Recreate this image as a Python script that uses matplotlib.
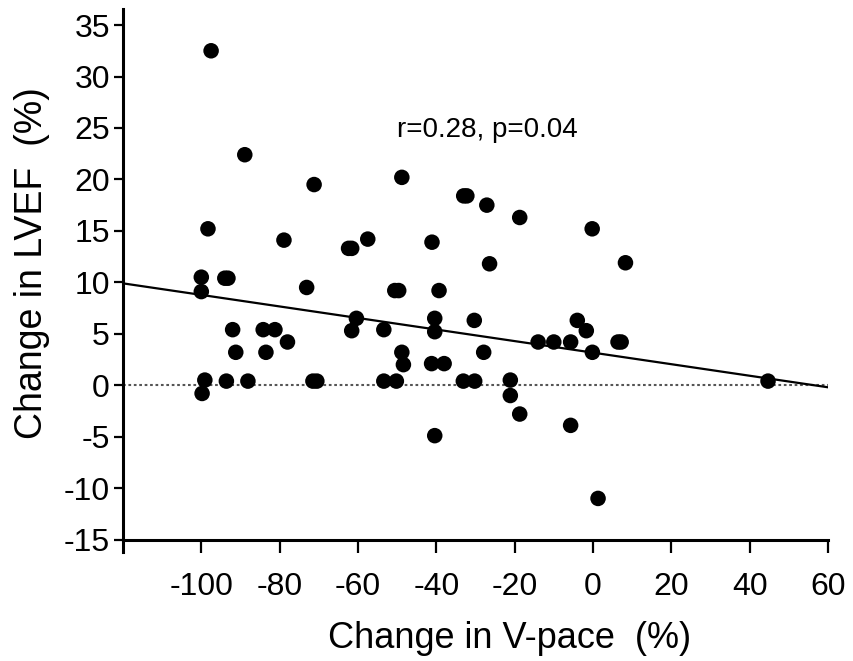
import matplotlib
matplotlib.use("Agg")
import matplotlib.pyplot as plt
from matplotlib.ticker import FixedLocator

# ---- data ----
vpace_change = [-97.5, -88.9, -98.3, -71.2, -48.8, -78.9, -61.6, -62.4, -57.5, -41.1,
                -32.2, -33.0, -27.1, -18.7, -0.2, -26.4, 8.3, -100.0, -100.0, -93.2,
                -94.0, -73.1, -49.6, -50.6, -39.3, -60.4, -61.6, -92.0, -84.2, -81.2,
                -78.0, -91.2, -83.5, -99.1, -99.8, -93.6, -88.1, -70.5, -71.5, -53.4,
                -40.4, -40.4, -30.3, -48.8, -48.4, -41.2, -38.0, -27.9, -53.4, -50.2,
                -33.1, -30.2, -21.1, -21.1, -18.7, -5.7, -40.4, 1.3, -14.0, -10.0,
                -5.7, -4.0, -1.7, -0.15, 6.4, 7.2, 44.7]
lvef_change = [32.5, 22.4, 15.2, 19.5, 20.2, 14.1, 13.3, 13.3, 14.2, 13.9,
               18.4, 18.4, 17.5, 16.3, 15.2, 11.8, 11.9, 10.5, 9.1, 10.4,
               10.4, 9.5, 9.2, 9.2, 9.2, 6.5, 5.3, 5.4, 5.4, 5.4,
               4.2, 3.2, 3.2, 0.5, -0.8, 0.4, 0.4, 0.4, 0.4, 5.4,
               6.5, 5.2, 6.3, 3.2, 2.0, 2.1, 2.1, 3.2, 0.4, 0.4,
               0.4, 0.4, 0.5, -1.0, -2.8, -3.9, -4.9, -11.0, 4.2, 4.2,
               4.2, 6.3, 5.3, 3.2, 4.2, 4.2, 0.4]

fit_x = [-120, 60]
fit_y = [9.9, -0.2]

x_ticks = [-100, -80, -60, -40, -20, 0, 20, 40, 60]
y_ticks = [-15, -10, -5, 0, 5, 10, 15, 20, 25, 30, 35]
annotation = "r=0.28, p=0.04"

plt.rcParams['font.family'] = ['Liberation Sans', 'DejaVu Sans']

fig = plt.figure(figsize=(8.54, 6.61), dpi=100)
ax = fig.add_axes([0.144, 0.165, 0.8255, 0.822])

ax.set_xlim(-120, 60)
ax.set_ylim(-16.2, 36.6)

# zero reference line (dotted)
ax.plot([-120, 60], [0, 0], color='#555555', lw=1.5,
        linestyle=(0, (1.3, 1.3)), zorder=1)
# regression line
ax.plot(fit_x, fit_y, color='black', lw=1.6, zorder=2)
# points
ax.scatter(vpace_change, lvef_change, s=125, color='black',
           edgecolors='none', zorder=3)

ax.text(-27, 24.8, annotation, fontsize=20, ha='center', va='center')

for side in ['top', 'right']:
    ax.spines[side].set_visible(False)
ax.spines['bottom'].set_position(('data', -15))
ax.spines['left'].set_linewidth(2.2)
ax.spines['bottom'].set_linewidth(2.2)

ax.xaxis.set_major_locator(FixedLocator(x_ticks))
ax.yaxis.set_major_locator(FixedLocator(y_ticks))
ax.set_xticklabels([str(v) for v in x_ticks])
ax.set_yticklabels([str(v) for v in y_ticks])
ax.tick_params(axis='x', direction='out', length=9.5, width=1.6,
               labelsize=23, pad=14)
ax.tick_params(axis='y', direction='out', length=6.5, width=1.6,
               labelsize=23, pad=3)

ax.set_xlabel("Change in V-pace  (%)", fontsize=26)
ax.set_ylabel("Change in LVEF  (%)", fontsize=27)
ax.xaxis.set_label_coords(0.549, -0.128)
ax.yaxis.set_label_coords(-0.104, 0.532)

fig.savefig("out.png", dpi=100)
